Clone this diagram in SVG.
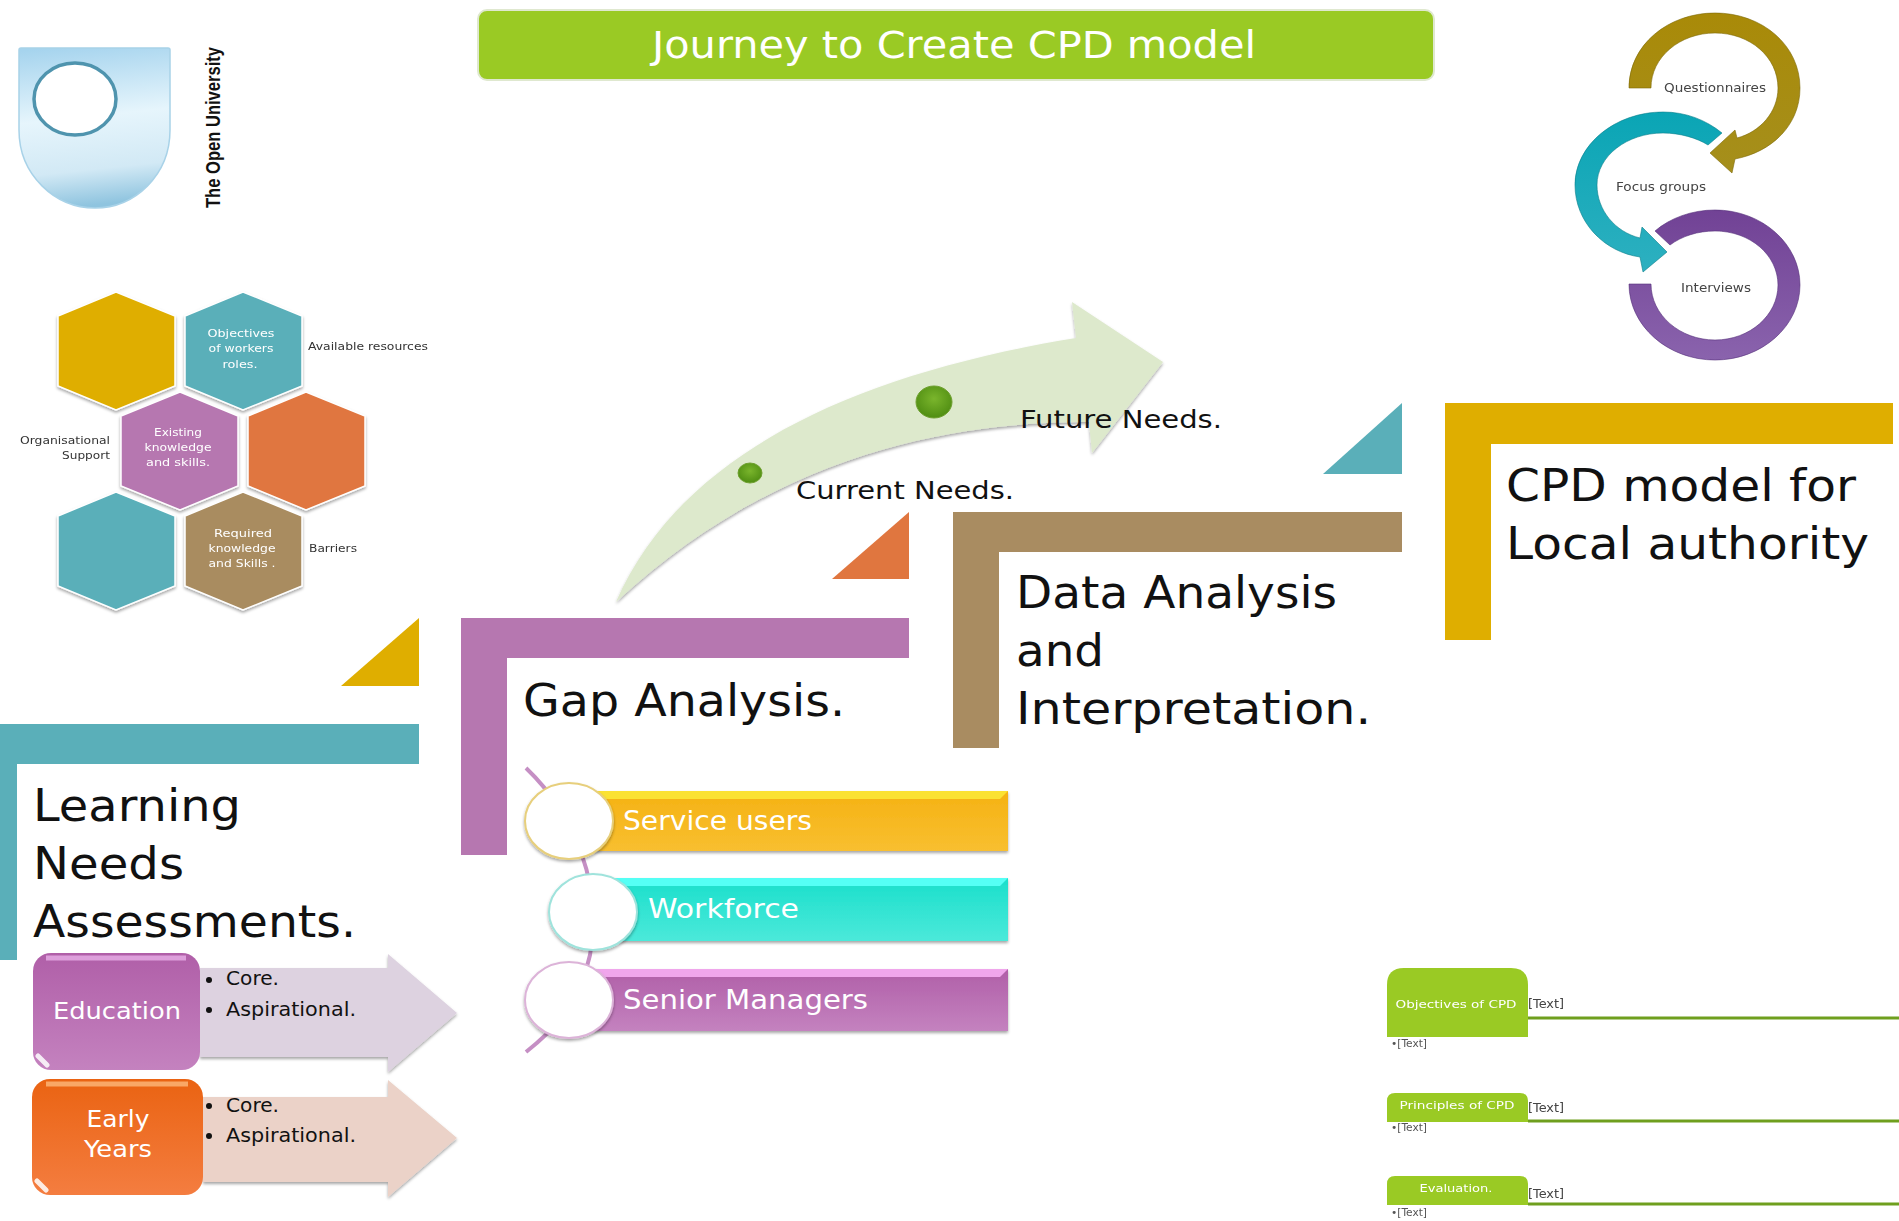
<svg xmlns="http://www.w3.org/2000/svg" width="1899" height="1221" viewBox="0 0 1899 1221">
<style>
text{font-family:"DejaVu Sans","Noto Sans",sans-serif;fill:#111}
.big{font-size:45px}
.hx{font-size:11px;fill:#fff;text-anchor:middle;filter:url(#soft)}
.sm{font-size:11px;fill:#333;filter:url(#soft)}
.cyc{font-size:12px;fill:#444;text-anchor:middle;filter:url(#soft)}
.li{font-size:26px;fill:#fff}
.bl{font-size:19px}
.lab{font-size:25px}
.hd{font-size:23px;fill:#fff;text-anchor:middle}
.ln{stroke:#6f9f1e;stroke-width:3;fill:none}
.gb{fill:#9aca24}
.gt{font-size:11px;fill:#fff;text-anchor:middle;filter:url(#soft)}
.tx{font-size:12px;fill:#444;filter:url(#soft)}
.tx2{font-size:10px;fill:#555;filter:url(#soft)}
.gold{fill:#dfae00}.teal{fill:#5aafb9}.purp{fill:#b677b0}.or{fill:#e0763f}.tan{fill:#a98c61}
.circ{fill:#fff;stroke-width:2;filter:url(#sh)}
.hex{filter:url(#sh);stroke:#fff;stroke-width:1.500}
.dot{fill:#111}
.corner{stroke:#fff;stroke-width:5;stroke-linecap:round;opacity:.85}
</style>
<defs>
<filter id="soft" x="-10%" y="-30%" width="120%" height="160%"><feGaussianBlur stdDeviation=".5"/></filter>
<filter id="sh" x="-10%" y="-10%" width="120%" height="125%"><feDropShadow dx="0" dy="2" stdDeviation="1.5" flood-color="#000" flood-opacity=".35"/></filter>
<linearGradient id="gLogo" x1=".2" y1="0" x2=".3" y2="1"><stop offset="0" stop-color="#a6d4ee"/><stop offset=".45" stop-color="#e6f5fc"/><stop offset=".78" stop-color="#d2e9f5"/><stop offset="1" stop-color="#8fc4df"/></linearGradient>
<linearGradient id="gY" x1="0" y1="0" x2="0" y2="1"><stop offset="0" stop-color="#f5b213"/><stop offset="1" stop-color="#f8bf30"/></linearGradient>
<linearGradient id="gC" x1="0" y1="0" x2="0" y2="1"><stop offset="0" stop-color="#1adfcb"/><stop offset="1" stop-color="#4be9da"/></linearGradient>
<linearGradient id="gP" x1="0" y1="0" x2="0" y2="1"><stop offset="0" stop-color="#b05fa8"/><stop offset="1" stop-color="#c482bf"/></linearGradient>
<linearGradient id="gO" x1="0" y1="0" x2="0" y2="1"><stop offset="0" stop-color="#ea6312"/><stop offset="1" stop-color="#f47d40"/></linearGradient>
<linearGradient id="gCg" x1="0" y1="0" x2="0" y2="1"><stop offset="0" stop-color="#a98a08"/><stop offset="1" stop-color="#a58f1c"/></linearGradient>
<linearGradient id="gCt" x1="0" y1="0" x2="0" y2="1"><stop offset="0" stop-color="#0aa5b5"/><stop offset="1" stop-color="#2db0c0"/></linearGradient>
<linearGradient id="gCp" x1="0" y1="0" x2="0" y2="1"><stop offset="0" stop-color="#714295"/><stop offset="1" stop-color="#8a63ad"/></linearGradient>
<radialGradient id="gDot" cx=".5" cy=".4" r=".6"><stop offset="0" stop-color="#7ab52c"/><stop offset="1" stop-color="#4f8d12"/></radialGradient>
</defs>
<rect width="1899" height="1221" fill="#fff"/>

<g id="connectors">
<path d="M526 768C575 815 603 885 590 955C580 1000 560 1025 526 1052" fill="none" stroke="#c58fc4" stroke-width="4"/>
<path class="ln" d="M1528 1018H1899"/>
<path class="ln" d="M1528 1121H1899"/>
<path class="ln" d="M1528 1204H1899"/>
</g>

<g id="title"><rect x="478" y="10" width="956" height="70" rx="9" fill="#9aca24" stroke="#dfe8cf" stroke-width="2"/>
<text x="954" y="58" font-size="37" text-anchor="middle" textLength="604" lengthAdjust="spacingAndGlyphs" style="fill:#fff">Journey to Create CPD model</text></g>

<g id="logo">
<path d="M19 50Q19 48 21 48H168Q170 48 170 50V130C170 175 135 208 95 208C55 208 19 175 19 130Z" fill="url(#gLogo)" stroke="#a8d2e8" stroke-width="1.500"/>
<ellipse cx="75" cy="99" rx="41" ry="36" fill="#fff" stroke="#4f94ae" stroke-width="3.500"/>
<text transform="translate(220 208) rotate(-90)" font-size="21" font-weight="700" textLength="161" lengthAdjust="spacingAndGlyphs" style="font-family:'Liberation Sans',sans-serif">The Open University</text>
</g>

<g id="hexagons">
<g id="hex1"><polygon class="gold hex" points="116,292 175,316 175,386 116,410 58,386 58,316"/></g>
<g id="hex2"><polygon class="teal hex" points="243,292 302,316 302,386 243,410 185,386 185,316"/>
<text class="hx" x="241" y="337" textLength="67" lengthAdjust="spacingAndGlyphs">Objectives</text><text class="hx" x="241" y="352" textLength="65" lengthAdjust="spacingAndGlyphs">of workers</text><text class="hx" x="240" y="368" textLength="35" lengthAdjust="spacingAndGlyphs">roles.</text></g>
<g id="hex3"><polygon class="purp hex" points="180,392 238,416 238,486 180,510 121,486 121,416"/>
<text class="hx" x="178" y="436" textLength="48" lengthAdjust="spacingAndGlyphs">Existing</text><text class="hx" x="178" y="451" textLength="67" lengthAdjust="spacingAndGlyphs">knowledge</text><text class="hx" x="178" y="466" textLength="64" lengthAdjust="spacingAndGlyphs">and skills.</text></g>
<g id="hex4"><polygon class="or hex" points="306,392 365,416 365,486 306,510 248,486 248,416"/></g>
<g id="hex5"><polygon class="teal hex" points="116,492 175,516 175,586 116,610 58,586 58,516"/></g>
<g id="hex6"><polygon class="tan hex" points="243,492 302,516 302,586 243,610 185,586 185,516"/>
<text class="hx" x="243" y="537" textLength="58" lengthAdjust="spacingAndGlyphs">Required</text><text class="hx" x="242" y="552" textLength="67" lengthAdjust="spacingAndGlyphs">knowledge</text><text class="hx" x="242" y="567" textLength="67" lengthAdjust="spacingAndGlyphs">and Skills .</text></g>
<text class="sm" x="308" y="350" textLength="120" lengthAdjust="spacingAndGlyphs">Available resources</text>
<text class="sm" x="20" y="444" textLength="90" lengthAdjust="spacingAndGlyphs">Organisational</text>
<text class="sm" x="62" y="459" textLength="48" lengthAdjust="spacingAndGlyphs">Support</text>
<text class="sm" x="309" y="552" textLength="48" lengthAdjust="spacingAndGlyphs">Barriers</text>
</g>

<g id="cycle">
<g id="cycle1"><path fill="url(#gCg)" stroke="#7d6a08" stroke-width=".6" d="M1629 88C1629 45 1668 13 1715 13C1762 13 1800 45 1800 88C1800 125 1772 152 1735 159L1732 173L1710 153L1735 130L1737 138C1760 132 1778 112 1778 88C1778 57 1750 33 1715 33C1680 33 1651 57 1651 88Z"/>
<text class="cyc" x="1715" y="92" textLength="102" lengthAdjust="spacingAndGlyphs">Questionnaires</text></g>
<g id="cycle2"><path fill="url(#gCt)" stroke="#0b7f8c" stroke-width=".6" d="M1722 133C1706 120 1686 112 1663 112C1615 112 1575 145 1575 185C1575 222 1604 252 1640 257L1643 272L1667 252L1642 227L1640 238C1615 232 1597 210 1597 185C1597 156 1627 133 1663 133C1680 133 1697 138 1708 145Z"/>
<text class="cyc" x="1661" y="191" textLength="90" lengthAdjust="spacingAndGlyphs">Focus groups</text></g>
<g id="cycle3"><path fill="url(#gCp)" stroke="#55307a" stroke-width=".6" d="M1655 231C1670 218 1692 210 1715 210C1762 210 1800 244 1800 285C1800 326 1762 360 1715 360C1668 360 1629 326 1629 284L1651 284C1651 315 1680 340 1715 340C1750 340 1778 315 1778 285C1778 255 1750 231 1715 231C1698 231 1682 236 1670 245Z"/>
<text class="cyc" x="1716" y="292" textLength="70" lengthAdjust="spacingAndGlyphs">Interviews</text></g>
</g>

<g id="needs-arrow">
<path d="M616 602C680 455 850 375 1076 338L1072 302L1163 362L1092 453L1089 422C980 422 790 440 616 602Z" fill="#dde9cc" filter="url(#sh)"/>
<ellipse cx="934" cy="402" rx="18" ry="16" fill="url(#gDot)" stroke="#6fa030"/>
<ellipse cx="750" cy="473" rx="12" ry="10" fill="url(#gDot)" stroke="#6fa030"/>
<text class="lab" x="1020" y="428" textLength="202" lengthAdjust="spacingAndGlyphs">Future Needs.</text>
<text class="lab" x="796" y="499" textLength="218" lengthAdjust="spacingAndGlyphs">Current Needs.</text>
</g>

<g id="step-learning">
<path class="teal" d="M0 724H419V764H17V960H0Z"/><polygon class="gold" points="419,618 419,686 341,686"/>
<text class="big" x="33" y="821" textLength="208" lengthAdjust="spacingAndGlyphs">Learning</text><text class="big" x="33" y="879" textLength="151" lengthAdjust="spacingAndGlyphs">Needs</text><text class="big" x="33" y="937" textLength="323" lengthAdjust="spacingAndGlyphs">Assessments.</text>
</g>
<g id="step-gap">
<path class="purp" d="M461 618H909V658H507V855H461Z"/><polygon class="or" points="909,512 909,579 832,579"/>
<text class="big" x="523" y="716" textLength="322" lengthAdjust="spacingAndGlyphs">Gap Analysis.</text>
</g>
<g id="step-data">
<path class="tan" d="M953 512H1402V552H999V748H953Z"/><polygon class="teal" points="1402,403 1402,474 1323,474"/>
<text class="big" x="1016" y="608" textLength="321" lengthAdjust="spacingAndGlyphs">Data Analysis</text><text class="big" x="1016" y="666" textLength="88" lengthAdjust="spacingAndGlyphs">and</text><text class="big" x="1016" y="724" textLength="355" lengthAdjust="spacingAndGlyphs">Interpretation.</text>
</g>
<g id="step-cpd">
<path class="gold" d="M1445 403H1893V444H1491V640H1445Z"/>
<text class="big" x="1506" y="501" textLength="350" lengthAdjust="spacingAndGlyphs">CPD model for</text><text class="big" x="1506" y="559" textLength="363" lengthAdjust="spacingAndGlyphs">Local authority</text>
</g>

<g id="education">
<path d="M200 968H388V954L457 1013L388 1072V1057H200Z" fill="#ddd2e0" filter="url(#sh)"/>
<rect x="33" y="953" width="167" height="117" rx="18" fill="url(#gP)"/>
<path d="M46 958H186" stroke="#dd9fdb" stroke-width="5"/>
<path class="corner" d="M38 1056L47 1065"/>
<text class="hd" x="117" y="1019" textLength="128" lengthAdjust="spacingAndGlyphs">Education</text>
<circle class="dot" cx="209" cy="980" r="3"/><text class="bl" x="226" y="985" textLength="53" lengthAdjust="spacingAndGlyphs">Core.</text>
<circle class="dot" cx="209" cy="1010" r="3"/><text class="bl" x="226" y="1016" textLength="130" lengthAdjust="spacingAndGlyphs">Aspirational.</text>
</g>
<g id="early-years">
<path d="M203 1097H388V1080L457 1138L388 1197V1182H203Z" fill="#ebd2c8" filter="url(#sh)"/>
<rect x="32" y="1079" width="171" height="116" rx="18" fill="url(#gO)"/>
<path d="M46 1084H188" stroke="#f9a766" stroke-width="5"/>
<path class="corner" d="M37 1181L46 1190"/>
<text class="hd" x="118" y="1127" textLength="63" lengthAdjust="spacingAndGlyphs">Early</text>
<text class="hd" x="118" y="1157" textLength="68" lengthAdjust="spacingAndGlyphs">Years</text>
<circle class="dot" cx="209" cy="1106" r="3"/><text class="bl" x="226" y="1112" textLength="53" lengthAdjust="spacingAndGlyphs">Core.</text>
<circle class="dot" cx="209" cy="1136" r="3"/><text class="bl" x="226" y="1142" textLength="130" lengthAdjust="spacingAndGlyphs">Aspirational.</text>
</g>

<g id="list-service">
<rect x="590" y="791" width="418" height="60" fill="url(#gY)" filter="url(#sh)"/><path d="M590 791H1008L1000 799H590Z" fill="#fbe233"/>
<ellipse class="circ" cx="569" cy="821" rx="44" ry="38" stroke="#e7cf7c"/>
<text class="li" x="623" y="830" textLength="189" lengthAdjust="spacingAndGlyphs">Service users</text>
</g>
<g id="list-workforce">
<rect x="615" y="878" width="393" height="63" fill="url(#gC)" filter="url(#sh)"/><path d="M615 878H1008L1000 886H615Z" fill="#55fff5"/>
<ellipse class="circ" cx="593" cy="912" rx="44" ry="38" stroke="#9fe3dc"/>
<text class="li" x="648" y="918" textLength="151" lengthAdjust="spacingAndGlyphs">Workforce</text>
</g>
<g id="list-senior">
<rect x="590" y="969" width="418" height="62" fill="url(#gP)" filter="url(#sh)"/><path d="M590 969H1008L1000 977H590Z" fill="#f0a6ec"/>
<ellipse class="circ" cx="569" cy="1000" rx="44" ry="38" stroke="#dcb3d8"/>
<text class="li" x="623" y="1009" textLength="245" lengthAdjust="spacingAndGlyphs">Senior Managers</text>
</g>

<g id="cpd-objectives">
<path class="gb" d="M1387 1037V985Q1387 968 1404 968H1511Q1528 968 1528 985V1037Z"/>
<text class="gt" x="1456" y="1008" textLength="121" lengthAdjust="spacingAndGlyphs">Objectives of CPD</text>
<text class="tx" x="1528" y="1008" textLength="36" lengthAdjust="spacingAndGlyphs">[Text]</text><text class="tx2" x="1391" y="1047" textLength="36" lengthAdjust="spacingAndGlyphs">•[Text]</text>
</g>
<g id="cpd-principles">
<path class="gb" d="M1387 1122V1101Q1387 1093 1395 1093H1520Q1528 1093 1528 1101V1122Z"/>
<text class="gt" x="1457" y="1109" textLength="115" lengthAdjust="spacingAndGlyphs">Principles of CPD</text>
<text class="tx" x="1528" y="1112" textLength="36" lengthAdjust="spacingAndGlyphs">[Text]</text><text class="tx2" x="1391" y="1131" textLength="36" lengthAdjust="spacingAndGlyphs">•[Text]</text>
</g>
<g id="cpd-evaluation">
<path class="gb" d="M1387 1205V1184Q1387 1176 1395 1176H1520Q1528 1176 1528 1184V1205Z"/>
<text class="gt" x="1456" y="1192" textLength="73" lengthAdjust="spacingAndGlyphs">Evaluation.</text>
<text class="tx" x="1528" y="1198" textLength="36" lengthAdjust="spacingAndGlyphs">[Text]</text><text class="tx2" x="1391" y="1216" textLength="36" lengthAdjust="spacingAndGlyphs">•[Text]</text>
</g>
</svg>
